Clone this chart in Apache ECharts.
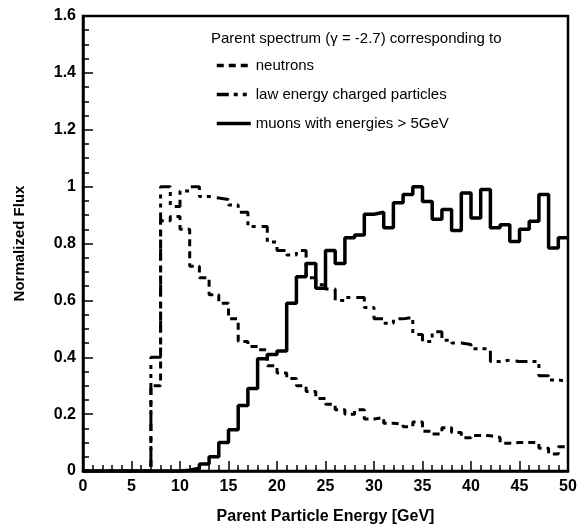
<!DOCTYPE html>
<html>
<head>
<meta charset="utf-8">
<script src="https://cdn.jsdelivr.net/npm/echarts@6/dist/echarts.min.js"></script>
<style>
  html, body { margin: 0; padding: 0; background: #fff; }
  #myChart { width: 588px; height: 532px; }
</style>
</head>
<body>
<div id="myChart"></div>
<script>
// 1 GeV bins from 0 to 50 GeV, value = bin starting at that energy
const binEdges = Array.from({ length: 51 }, (_, i) => i);

const neutrons = [
    0, 0, 0, 0, 0, 0, 0, 0.30, 0.88, 0.895,
    0.85, 0.72, 0.68, 0.62, 0.59, 0.535, 0.455, 0.438, 0.426, 0.37,
    0.345, 0.325, 0.30, 0.28, 0.255, 0.235, 0.215, 0.20, 0.215, 0.183,
    0.188, 0.168, 0.165, 0.156, 0.172, 0.14, 0.13, 0.152, 0.135, 0.117,
    0.125, 0.124, 0.118, 0.098, 0.1, 0.1, 0.1, 0.08, 0.06, 0.085,
];

const charged = [
    0, 0, 0, 0, 0, 0, 0, 0.40, 1.0, 0.93,
    0.985, 1.0, 0.965, 0.96, 0.955, 0.935, 0.91, 0.86, 0.86, 0.805,
    0.775, 0.76, 0.775, 0.68, 0.655, 0.64, 0.60, 0.61, 0.61, 0.575,
    0.535, 0.52, 0.535, 0.54, 0.48, 0.455, 0.49, 0.46, 0.45, 0.445,
    0.43, 0.43, 0.385, 0.39, 0.385, 0.385, 0.385, 0.335, 0.32, 0.315,
];

const muons = [
    0, 0, 0, 0, 0, 0, 0, 0, 0, 0,
    0.003, 0.01, 0.025, 0.05, 0.1, 0.145, 0.23, 0.29, 0.395, 0.41,
    0.422, 0.59, 0.683, 0.73, 0.643, 0.775, 0.73, 0.82, 0.83, 0.903,
    0.91, 0.855, 0.943, 0.972, 1.0, 0.948, 0.885, 0.92, 0.846, 0.978,
    0.89, 0.99, 0.855, 0.866, 0.807, 0.85, 0.878, 0.972, 0.784, 0.82,
];

const seriesNames = [
    "neutrons",
    "law energy charged particles",
    "muons with energies > 5GeV",
];

const fontFamily = "'Liberation Sans', Arial, Helvetica, sans-serif";

// histogram as step line: last edge repeats the last bin value
const toSteps = (values) => {
    const pts = values.map((v, i) => [binEdges[i], v]);
    pts.push([binEdges[values.length], values[values.length - 1]]);
    return pts;
};

const graphElem = document.getElementById("myChart");
const myChart = echarts.init(graphElem, null, { width: 588, height: 532 });

const histSeries = (name, values, width, dash) => ({
    name: name,
    type: "line",
    step: "end",
    symbol: "none",
    data: toSteps(values),
    lineStyle: { color: "#000", width: width, type: dash },
    itemStyle: { color: "#000" },
    animation: false,
});

const options = {
    backgroundColor: "#fff",
    title: {
        text: "Parent spectrum (\u03b3 = -2.7) corresponding to",
        left: 206,
        top: 26,
        textStyle: { fontFamily: fontFamily, fontSize: 15, fontWeight: "normal", color: "#000" },
    },
    legend: {
        orient: "vertical",
        left: 210,
        top: 53,
        itemWidth: 34,
        itemHeight: 14,
        itemGap: 14,
        data: seriesNames,
        itemStyle: { opacity: 0 },
        lineStyle: { width: 3.5 },
        textStyle: { fontFamily: fontFamily, fontSize: 15, color: "#000" },
    },
    grid: {
        left: 83,
        right: 20,
        top: 16,
        bottom: 61,
        show: true,
        borderColor: "#000",
        borderWidth: 2.5,
    },
    xAxis: {
        type: "value",
        min: 0,
        max: 50,
        interval: 5,
        name: "Parent Particle Energy [GeV]",
        nameLocation: "middle",
        nameGap: 38,
        nameTextStyle: { fontFamily: fontFamily, fontSize: 16, fontWeight: "bold", color: "#000" },
        axisLine: { lineStyle: { color: "#000", width: 2.5 } },
        axisTick: { inside: true, length: 10, lineStyle: { color: "#000", width: 1.5 } },
        minorTick: { show: true, splitNumber: 5, length: 6, lineStyle: { color: "#000", width: 1.5 } },
        axisLabel: { margin: 8, fontFamily: fontFamily, fontSize: 16, fontWeight: "bold", color: "#000" },
        splitLine: { show: false },
    },
    yAxis: {
        type: "value",
        min: 0,
        max: 1.6,
        interval: 0.2,
        name: "Normalized Flux",
        nameLocation: "middle",
        nameGap: 56,
        nameTextStyle: { fontFamily: fontFamily, fontSize: 15, fontWeight: "bold", color: "#000" },
        axisLine: { show: true, lineStyle: { color: "#000", width: 2.5 } },
        axisTick: { show: true, inside: true, length: 10, lineStyle: { color: "#000", width: 1.5 } },
        minorTick: { show: true, splitNumber: 4, length: 6, lineStyle: { color: "#000", width: 1.5 } },
        axisLabel: { margin: 7, fontFamily: fontFamily, fontSize: 16, fontWeight: "bold", color: "#000" },
        splitLine: { show: false },
    },
    series: [
        histSeries(seriesNames[0], neutrons, 3, [7, 5]),
        histSeries(seriesNames[1], charged, 3, [12, 5, 4, 5, 4, 6]),
        histSeries(seriesNames[2], muons, 3.5, "solid"),
    ],
};

myChart.setOption(options);
</script>
</body>
</html>
